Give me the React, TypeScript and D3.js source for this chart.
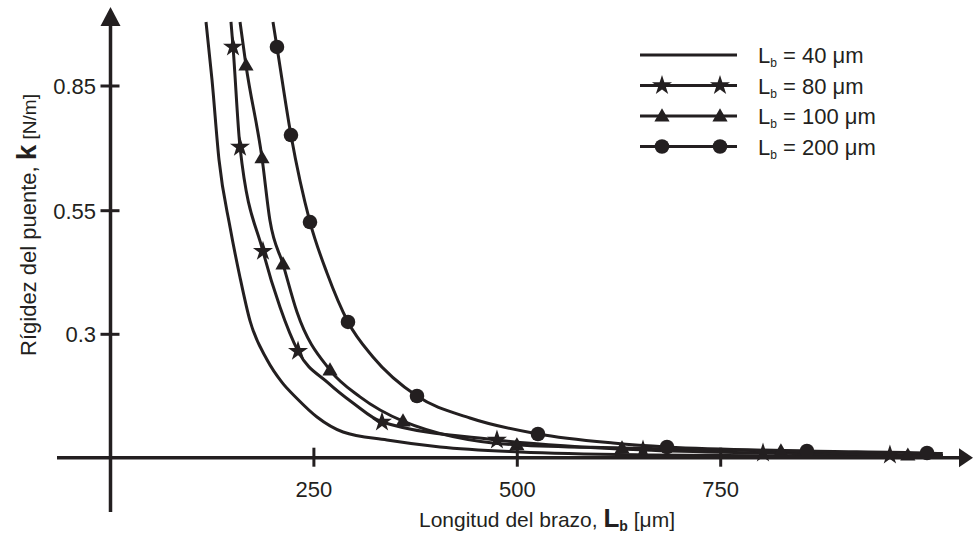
import React from 'react';
import * as d3 from 'd3';

// Axis ticks
const xTickValues = [250, 500, 750];
const yTickValues = [0.3, 0.55, 0.85];
const yTickLabels = ['0.3', '0.55', '0.85'];

// Legend labels (bridge width)
const seriesLabels = ['40', '80', '100', '200'];

// Lb = 40 µm (plain line)
const L40 = [117.4, 124.8, 133.4, 146.9, 159.2, 171.5, 192.4, 210.8, 229.2, 253.8, 285.8, 339.8, 405, 503.4, 663, 847.5, 1023];
const k40 = [1.004, 0.864, 0.672, 0.517, 0.415, 0.327, 0.238, 0.183, 0.144, 0.099, 0.0625, 0.043, 0.026, 0.0139, 0.0066, 0.0041, 0.0041];

// Lb = 80 µm (stars)
const L80 = [148.1, 150.6, 159.2, 187.4, 208.3, 230.5, 267.5, 298.1, 333.7, 475, 654.5, 802, 958, 1023];
const k80 = [1.004, 0.944, 0.703, 0.468, 0.355, 0.259, 0.182, 0.133, 0.0868, 0.043, 0.0187, 0.0114, 0.0066, 0.0053];
const L80marks = [150.6, 159.2, 187.4, 230.5, 333.7, 475, 654.5, 802, 958];
const k80marks = [0.944, 0.703, 0.468, 0.259, 0.0868, 0.043, 0.0187, 0.0114, 0.0066];

// Lb = 100 µm (triangles)
const L100 = [159.2, 166.5, 186.2, 196, 212, 229.2, 269.8, 306.7, 359.5, 499.5, 628.7, 824, 980, 1023];
const k100 = [1.004, 0.9, 0.677, 0.53, 0.442, 0.345, 0.213, 0.148, 0.089, 0.031, 0.0236, 0.016, 0.006, 0.005];
const L100marks = [166.5, 186.2, 212, 269.8, 359.5, 499.5, 628.7, 824, 980];
const k100marks = [0.9, 0.677, 0.442, 0.213, 0.089, 0.031, 0.0236, 0.016, 0.006];

// Lb = 200 µm (circles)
const L200 = [199.7, 204.6, 221.8, 245.2, 266.1, 291.9, 322.6, 376.7, 441.8, 525.4, 617.6, 684, 856, 1003.6, 1023];
const k200 = [1.004, 0.944, 0.732, 0.527, 0.424, 0.325, 0.245, 0.15, 0.0965, 0.0576, 0.0357, 0.026, 0.0163, 0.0114, 0.01];
const L200marks = [204.6, 221.8, 245.2, 291.9, 376.7, 525.4, 684, 856, 1003.6];
const k200marks = [0.944, 0.732, 0.527, 0.325, 0.15, 0.0576, 0.026, 0.0163, 0.0114];

const W = 973;
const H = 535;
const INK = '#231f20';
const FONT = '"Liberation Sans", Arial, sans-serif';

const xScale = d3.scaleLinear().domain([0, 750]).range([110.5, 720.7]);
const yScale = d3.scaleLinear().domain([0, 0.3, 0.55, 0.85]).range([457.7, 334.3, 210.7, 86]);

const zip = (a: number[], b: number[]) => a.map((v, i) => [v, b[i]] as [number, number]);

const lineGen = d3
  .line<[number, number]>()
  .x((d) => xScale(d[0]))
  .y((d) => yScale(d[1]))
  .curve(d3.curveMonotoneX);

const starPath = d3.symbol().type(d3.symbolStar).size(125)() as string;
const triPath = d3.symbol().type(d3.symbolTriangle).size(100)() as string;

type Kind = 'none' | 'star' | 'tri' | 'circle';

function Marker({ kind, x, y }: { kind: Kind; x: number; y: number }) {
  if (kind === 'star') return <path d={starPath} transform={`translate(${x},${y})`} fill={INK} />;
  if (kind === 'tri') return <path d={triPath} transform={`translate(${x},${y + 1})`} fill={INK} />;
  if (kind === 'circle') return <circle cx={x} cy={y} r={7.3} fill={INK} />;
  return null;
}

const series: { L: number[]; k: number[]; mL: number[]; mk: number[]; kind: Kind }[] = [
  { L: L40, k: k40, mL: [], mk: [], kind: 'none' },
  { L: L80, k: k80, mL: L80marks, mk: k80marks, kind: 'star' },
  { L: L100, k: k100, mL: L100marks, mk: k100marks, kind: 'tri' },
  { L: L200, k: k200, mL: L200marks, mk: k200marks, kind: 'circle' },
];

export default function App() {
  const axX = xScale(0);
  const axY = yScale(0);
  return (
    <svg
      width={W}
      height={H}
      viewBox={`0 0 ${W} ${H}`}
      style={{ position: 'absolute', left: 0, top: 0, background: '#fff' }}
      fontFamily={FONT}
    >
      <rect x={0} y={0} width={W} height={H} fill="#fff" />
      {/* curves */}
      {series.map((s, i) => (
        <path key={'l' + i} d={lineGen(zip(s.L, s.k)) as string} fill="none" stroke={INK} strokeWidth={3} />
      ))}
      {series.map((s, i) =>
        s.mL.map((v, j) => <Marker key={`m${i}-${j}`} kind={s.kind} x={xScale(v)} y={yScale(s.mk[j])} />)
      )}

      {/* axes */}
      <line x1={57} x2={962} y1={axY} y2={axY} stroke={INK} strokeWidth={3.5} />
      <path d={`M${973},${axY} L${959},${axY - 9.5} L${959},${axY + 9.5} Z`} fill={INK} />
      <line x1={axX} x2={axX} y1={512} y2={24} stroke={INK} strokeWidth={3.5} />
      <path d={`M${axX},${7} L${axX - 10},${26} L${axX + 10},${26} Z`} fill={INK} />

      {xTickValues.map((t) => (
        <g key={'xt' + t}>
          <line x1={xScale(t)} x2={xScale(t)} y1={axY - 10} y2={axY + 9} stroke={INK} strokeWidth={3} />
          <text x={xScale(t)} y={497} textAnchor="middle" fontSize={22} fill={INK}>
            {t}
          </text>
        </g>
      ))}
      {yTickValues.map((t, i) => (
        <g key={'yt' + t}>
          <line x1={axX - 10} x2={axX + 9} y1={yScale(t)} y2={yScale(t)} stroke={INK} strokeWidth={3} />
          <text x={96} y={yScale(t) + 8} textAnchor="end" fontSize={22} fill={INK}>
            {yTickLabels[i]}
          </text>
        </g>
      ))}

      {/* axis titles */}
      <text x={547} y={527} textAnchor="middle" fontSize={21} fill={INK}>
        Longitud del brazo,{' '}
        <tspan fontWeight="bold" fontSize={26}>L</tspan>
        <tspan fontWeight="bold" fontSize={14} dy={4}>b</tspan>
        <tspan dy={-4}> [μm]</tspan>
      </text>
      <text transform="translate(36,225) rotate(-90)" textAnchor="middle" fontSize={22} fill={INK}>
        Rígidez del puente,{' '}
        <tspan fontWeight="bold" fontSize={28}>k</tspan>
        <tspan fontSize={19}> [N/m]</tspan>
      </text>

      {/* legend */}
      {seriesLabels.map((lab, i) => {
        const y = 55 + i * 30.5;
        const kind = series[i].kind;
        return (
          <g key={'lg' + i}>
            <line x1={640} x2={737} y1={y} y2={y} stroke={INK} strokeWidth={3} />
            <Marker kind={kind} x={662} y={y} />
            <Marker kind={kind} x={720} y={y} />
            <text x={758} y={y + 8} fontSize={22} fill={INK}>
              L<tspan fontSize={12} dy={4}>b</tspan>
              <tspan dy={-4}> = {lab} μm</tspan>
            </text>
          </g>
        );
      })}
    </svg>
  );
}
